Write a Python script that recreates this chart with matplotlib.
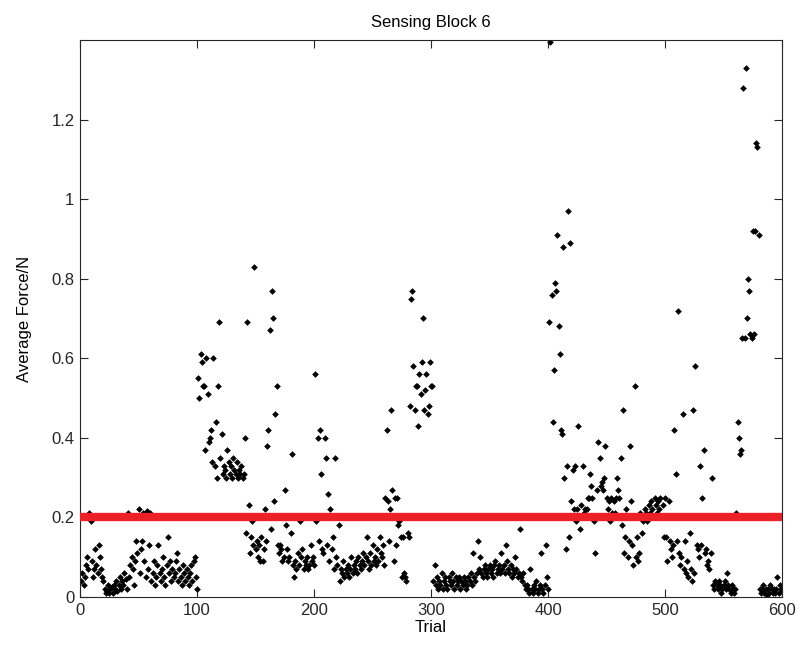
import numpy as np
import matplotlib.pyplot as plt
from matplotlib.ticker import FuncFormatter

plt.rcParams['font.family'] = ['Liberation Sans', 'DejaVu Sans']

# average force per trial (trials 1..600)
force_1_100 = [
    0.04, 0.06, 0.03, 0.05, 0.08, 0.10, 0.07, 0.21, 0.19, 0.09,
    0.05, 0.07, 0.12, 0.08, 0.06, 0.13, 0.10, 0.07, 0.05, 0.04,
    0.02, 0.01, 0.015, 0.03, 0.01, 0.02, 0.025, 0.01, 0.03, 0.02,
    0.04, 0.015, 0.03, 0.05, 0.02, 0.04, 0.03, 0.06, 0.045, 0.02,
    0.21, 0.05, 0.08, 0.10, 0.07, 0.03, 0.09, 0.14, 0.11, 0.22,
    0.06, 0.12, 0.14, 0.21, 0.09, 0.05, 0.215, 0.07, 0.13, 0.21,
    0.04, 0.06, 0.09, 0.03, 0.05, 0.08, 0.13, 0.06, 0.04, 0.07,
    0.10, 0.05, 0.03, 0.08, 0.15, 0.06, 0.09, 0.04, 0.07, 0.05,
    0.06, 0.09, 0.11, 0.04, 0.07, 0.05, 0.03, 0.08, 0.06, 0.04,
    0.07, 0.05, 0.03, 0.06, 0.08, 0.04, 0.09, 0.10, 0.05, 0.02,
]
force_101_200 = [
    0.55, 0.50, 0.61, 0.59, 0.53, 0.53, 0.37, 0.60, 0.51, 0.39,
    0.40, 0.42, 0.34, 0.60, 0.33, 0.44, 0.30, 0.53, 0.69, 0.35,
    0.41, 0.31, 0.33, 0.32, 0.30, 0.37, 0.34, 0.31, 0.33, 0.30,
    0.35, 0.32, 0.31, 0.34, 0.30, 0.32, 0.31, 0.33, 0.30, 0.31,
    0.40, 0.16, 0.69, 0.23, 0.11, 0.15, 0.19, 0.13, 0.83, 0.12,
    0.14, 0.10, 0.13, 0.09, 0.15, 0.09, 0.12, 0.22, 0.14, 0.38,
    0.42, 0.67, 0.17, 0.77, 0.70, 0.24, 0.46, 0.53, 0.13, 0.11,
    0.13, 0.12, 0.09, 0.10, 0.27, 0.18, 0.12, 0.09, 0.10, 0.16,
    0.36, 0.08, 0.05, 0.09, 0.07, 0.11, 0.08, 0.19, 0.10, 0.12,
    0.07, 0.09, 0.08, 0.10, 0.07, 0.08, 0.13, 0.09, 0.10, 0.08,
]
force_201_300 = [
    0.56, 0.19, 0.40, 0.14, 0.42, 0.31, 0.12, 0.11, 0.40, 0.35,
    0.13, 0.26, 0.09, 0.22, 0.12, 0.15, 0.07, 0.35, 0.10, 0.08,
    0.18, 0.04, 0.07, 0.06, 0.09, 0.05, 0.07, 0.06, 0.08, 0.05,
    0.07, 0.10, 0.06, 0.08, 0.07, 0.09, 0.06, 0.10, 0.08, 0.07,
    0.09, 0.11, 0.08, 0.10, 0.15, 0.09, 0.07, 0.11, 0.08, 0.13,
    0.09, 0.10, 0.08, 0.12, 0.09, 0.15, 0.11, 0.10, 0.13, 0.08,
    0.25, 0.42, 0.24, 0.14, 0.22, 0.47, 0.27, 0.09, 0.25, 0.13,
    0.25, 0.18, 0.19, 0.15, 0.05, 0.15, 0.06, 0.05, 0.04, 0.16,
    0.15, 0.48, 0.75, 0.77, 0.58, 0.47, 0.53, 0.53, 0.43, 0.56,
    0.51, 0.59, 0.70, 0.47, 0.52, 0.56, 0.46, 0.48, 0.59, 0.53,
]
force_301_400 = [
    0.53, 0.04, 0.08, 0.03, 0.05, 0.02, 0.04, 0.03, 0.06, 0.02,
    0.04, 0.05, 0.03, 0.02, 0.05, 0.04, 0.03, 0.06, 0.04, 0.02,
    0.05, 0.03, 0.04, 0.05, 0.02, 0.04, 0.03, 0.05, 0.04, 0.02,
    0.03, 0.05, 0.04, 0.06, 0.03, 0.11, 0.05, 0.04, 0.06, 0.14,
    0.07, 0.10, 0.06, 0.05, 0.07, 0.08, 0.06, 0.05, 0.07, 0.08,
    0.06, 0.07, 0.05, 0.08, 0.09, 0.06, 0.07, 0.08, 0.06, 0.11,
    0.07, 0.08, 0.06, 0.13, 0.09, 0.07, 0.06, 0.08, 0.05, 0.07,
    0.06, 0.10, 0.07, 0.05, 0.06, 0.17, 0.05, 0.04, 0.06, 0.03,
    0.02, 0.03, 0.02, 0.01, 0.07, 0.02, 0.01, 0.03, 0.02, 0.04,
    0.01, 0.02, 0.03, 0.11, 0.02, 0.01, 0.03, 0.13, 0.05, 0.02,
]
force_401_500 = [
    0.69, 1.395, 0.76, 0.44, 0.57, 0.79, 0.77, 0.91, 0.68, 0.61,
    0.42, 0.41, 0.88, 0.30, 0.12, 0.33, 0.97, 0.15, 0.89, 0.24,
    0.32, 0.22, 0.33, 0.19, 0.22, 0.43, 0.17, 0.23, 0.20, 0.33,
    0.21, 0.22, 0.22, 0.25, 0.25, 0.31, 0.28, 0.25, 0.19, 0.11,
    0.20, 0.27, 0.39, 0.35, 0.28, 0.29, 0.27, 0.30, 0.38, 0.25,
    0.22, 0.24, 0.19, 0.25, 0.21, 0.24, 0.21, 0.25, 0.30, 0.27,
    0.25, 0.35, 0.18, 0.47, 0.11, 0.15, 0.22, 0.10, 0.14, 0.38,
    0.24, 0.13, 0.08, 0.53, 0.10, 0.15, 0.09, 0.11, 0.21, 0.16,
    0.19, 0.20, 0.22, 0.21, 0.19, 0.23, 0.21, 0.24, 0.22, 0.20,
    0.25, 0.23, 0.21, 0.24, 0.22, 0.25, 0.20, 0.23, 0.15, 0.25,
]
force_501_600 = [
    0.15, 0.09, 0.24, 0.14, 0.12, 0.10, 0.13, 0.42, 0.31, 0.14,
    0.72, 0.11, 0.08, 0.10, 0.46, 0.07, 0.14, 0.06, 0.09, 0.05,
    0.16, 0.07, 0.04, 0.47, 0.06, 0.58, 0.13, 0.12, 0.10, 0.33,
    0.13, 0.25, 0.37, 0.11, 0.12, 0.08, 0.09, 0.07, 0.11, 0.30,
    0.03, 0.02, 0.04, 0.03, 0.02, 0.04, 0.03, 0.01, 0.02, 0.03,
    0.04, 0.02, 0.06, 0.03, 0.02, 0.01, 0.03, 0.02, 0.01, 0.02,
    0.21, 0.44, 0.40, 0.36, 0.37, 0.65, 1.28, 0.65, 1.33, 0.70,
    0.80, 0.77, 0.66, 0.65, 0.92, 0.66, 0.92, 1.14, 1.13, 0.91,
    0.02, 0.01, 0.02, 0.03, 0.01, 0.02, 0.005, 0.02, 0.01, 0.03,
    0.02, 0.01, 0.02, 0.01, 0.02, 0.05, 0.01, 0.03, 0.02, 0.02,
]

force = np.array(force_1_100 + force_101_200 + force_201_300
                 + force_301_400 + force_401_500 + force_501_600)
trial = np.arange(1, len(force) + 1)

threshold = 0.2
x_ticks = [0, 100, 200, 300, 400, 500, 600]
y_ticks = [0, 0.2, 0.4, 0.6, 0.8, 1.0, 1.2]

fig = plt.figure(figsize=(8.02, 6.52), dpi=100)
ax = fig.add_axes([0.0998, 0.0844, 0.8753, 0.8543])

ax.plot(trial, force, 'kD', markersize=3.4, markeredgewidth=0)
ax.plot([0, 600], [threshold, threshold], color='#ec2027', linewidth=6, zorder=3)

ax.set_xlim(0, 600)
ax.set_ylim(0, 1.4)
ax.set_xticks(x_ticks)
ax.set_yticks(y_ticks)
ax.yaxis.set_major_formatter(FuncFormatter(lambda v, p: '%g' % v))
ax.tick_params(direction='in', top=True, right=True, length=6, labelsize=12,
               colors='#262626', pad=4)
for s in ax.spines.values():
    s.set_color('#262626')

ax.set_title('Sensing Block 6', fontsize=12, pad=9)
ax.set_xlabel('Trial', fontsize=12, labelpad=2)
ax.set_ylabel('Average Force/N', fontsize=12, labelpad=14)

fig.savefig('out.png', dpi=100)
